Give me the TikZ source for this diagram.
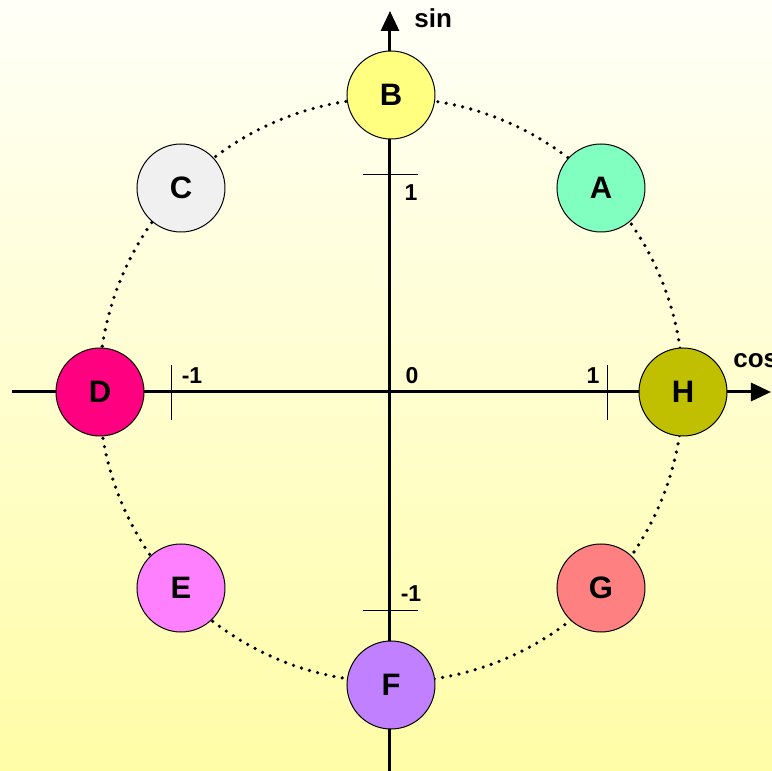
\documentclass[tikz,border=0pt]{standalone}
\usepackage{fontspec}
\setmainfont{Liberation Sans}
\usepackage{tikz}
\usetikzlibrary{arrows.meta}
\usepackage{xcolor}
\definecolor{bgtop}{HTML}{FFFFF8}
\definecolor{bgbot}{HTML}{FFFDA6}
\definecolor{ptA}{HTML}{80FFC0}
\definecolor{ptB}{HTML}{FFFF80}
\definecolor{ptC}{HTML}{F0F0F0}
\definecolor{ptD}{HTML}{FF0080}
\definecolor{ptE}{HTML}{FF80FF}
\definecolor{ptF}{HTML}{C080FF}
\definecolor{ptG}{HTML}{FF8080}
\definecolor{ptH}{HTML}{C0C000}
\tikzset{
  axis/.style={line width=1.5pt, draw=black, -{Triangle[length=10pt, width=9pt]}},
  tick/.style={line width=0.5pt, draw=black},
  track/.style={line width=1.8pt, draw=black, line cap=round, dash pattern=on 0pt off 4.2pt},
  point/.style={circle, draw=black, line width=0.5pt, minimum size=44pt, inner sep=0pt,
                font=\fontsize{15.5}{17}\selectfont\bfseries},
  ticklabel/.style={font=\fontsize{11.5}{13}\selectfont\bfseries, inner sep=1pt},
  axislabel/.style={font=\fontsize{13}{15}\selectfont\bfseries, inner sep=1pt},
}

\begin{document}
\begin{tikzpicture}[x=0.5pt, y=0.5pt]  % 1 px = 0.5pt, Ursprung im Kreismittelpunkt
  % Hintergrund mit Verlauf
  \shade[top color=bgtop, bottom color=bgbot] (-390,-379) rectangle (382,392);
  \useasboundingbox (-390,-379) rectangle (382,392);
  % Einheitskreis (punktiert)
  \draw[track] (1,2) circle[radius=292];
  % Achsen
  \coordinate (west) at (-378,0);
  \coordinate (east) at (381,0);
  \coordinate (south) at (0,-380);
  \coordinate (north) at (0,381);
  \draw[axis] (west) -- (east);
  \draw[axis] (south) -- (north);
  \node[axislabel, anchor=west] (cos) at (341,31) {cos};
  \node[axislabel, anchor=west] (sin) at (22,374) {sin};
  % Teilstriche bei +-1
  \foreach \x in {-218,218} \draw[tick] (\x,-28) -- (\x,27);
  \foreach \y in {-218,217} \draw[tick] (-27,\y) -- (28,\y);
  \node[ticklabel] (zero) at (22,16) {0};
  \node[ticklabel] (xone) at (203,16) {1};
  \node[ticklabel] (xmone) at (-198,16) {-1};
  \node[ticklabel] (yone) at (21,199) {1};
  \node[ticklabel] (ymone) at (21,-202) {-1};
  % Punkte auf dem Kreis
  \foreach \name/\pos in {A/{(211,204)},B/{(1,297)},C/{(-209,204)},D/{(-290,0)},
                          E/{(-209,-196)},F/{(1,-293)},G/{(211,-196)},H/{(293,0)}}
    \node[point, fill=pt\name] (\name) at \pos {\name};
\end{tikzpicture}
\end{document}
